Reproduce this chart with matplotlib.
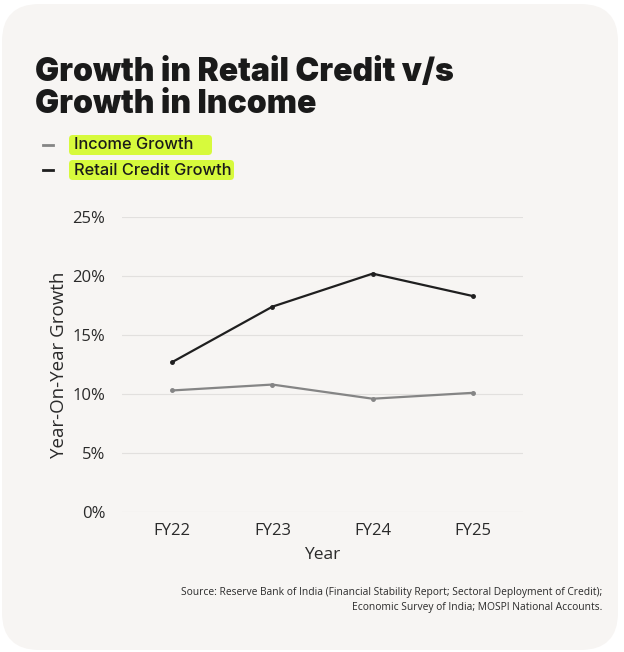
import matplotlib
matplotlib.use('Agg')
import matplotlib.pyplot as plt
from matplotlib.patches import FancyBboxPatch
from matplotlib.ticker import FuncFormatter

# данные
years = ['FY22', 'FY23', 'FY24', 'FY25']
income_growth = [10.3, 10.8, 9.6, 10.1]
retail_credit_growth = [12.7, 17.4, 20.2, 18.3]
y_ticks = [0, 5, 10, 15, 20, 25]

W, H = 624, 652
fig = plt.figure(figsize=(W / 100, H / 100), dpi=100)
fig.patch.set_facecolor('white')

# карточка со скруглёнными углами
card = FancyBboxPatch((2 / W, 2 / H), 616 / W, 646 / H,
                      boxstyle='round,pad=0,rounding_size=0.06',
                      transform=fig.transFigure, facecolor='#f7f5f3',
                      edgecolor='none', mutation_aspect=W / H, zorder=-10)
fig.add_artist(card)

ax = fig.add_axes([122 / W, 1 - 512 / H, 401 / W, (512 - 217) / H])
ax.set_facecolor('none')
ax.set_zorder(5)

ax.plot(years, income_growth, color='#858585', lw=1.6, marker='o', ms=2.5)
ax.plot(years, retail_credit_growth, color='#1f1f1f', lw=1.6, marker='o', ms=2.5)

ax.set_xlim(-0.5, 3.5)
ax.set_ylim(0, 25)
ax.set_yticks(y_ticks)
ax.yaxis.set_major_formatter(FuncFormatter(lambda v, p: f'{v:.0f}%'))
ax.grid(axis='y', color='#e2e0de', lw=0.8)
ax.set_axisbelow(True)
for s in ax.spines.values():
    s.set_visible(False)
ax.tick_params(length=0, labelsize=12, colors='#2a2a2a', pad=12)
ax.tick_params(axis='x', pad=8)
for lab in ax.get_xticklabels() + ax.get_yticklabels():
    lab.set_family('Open Sans')

ax.set_xlabel('Year', fontsize=12.5, family='Open Sans', color='#2a2a2a', labelpad=6)
ax.set_ylabel('Year-On-Year Growth', fontsize=13.5, family='Open Sans', color='#2a2a2a', labelpad=3)

# заголовок
fig.text(35 / W, 1 - 57 / H, 'Growth in Retail Credit v/s\nGrowth in Income',
         fontsize=23, family='Inter', weight='black', color='#1a1a1a',
         va='top', ha='left', linespacing=1.04)

# легенда с подсветкой
legend_items = [('Income Growth', '#858585', 145, 212), ('Retail Credit Growth', '#1f1f1f', 170, 234)]
for label, col, yp, x_end in legend_items:
    fig.add_artist(plt.Line2D([43 / W, 53 / W], [1 - yp / H, 1 - yp / H],
                              color=col, lw=2, transform=fig.transFigure))
    fig.add_artist(FancyBboxPatch((69 / W, 1 - (yp + 10) / H), (x_end - 69) / W, 20 / H,
                                  boxstyle='round,pad=0,rounding_size=0.006',
                                  transform=fig.transFigure, facecolor='#d7fa3c',
                                  edgecolor='none', zorder=1))
    fig.text(74 / W, 1 - yp / H, label, fontsize=11.8, family='Inter', weight='medium',
             color='#1a1a1a', va='center', ha='left', zorder=2)

fig.text(602 / W, 1 - 600 / H,
         'Source: Reserve Bank of India (Financial Stability Report; Sectoral Deployment of Credit);\n'
         'Economic Survey of India; MOSPI National Accounts.',
         fontsize=7.4, family='Open Sans', color='#2a2a2a', ha='right', va='center',
         multialignment='right', linespacing=1.4)

fig.savefig('out.png', dpi=100, facecolor='white')
